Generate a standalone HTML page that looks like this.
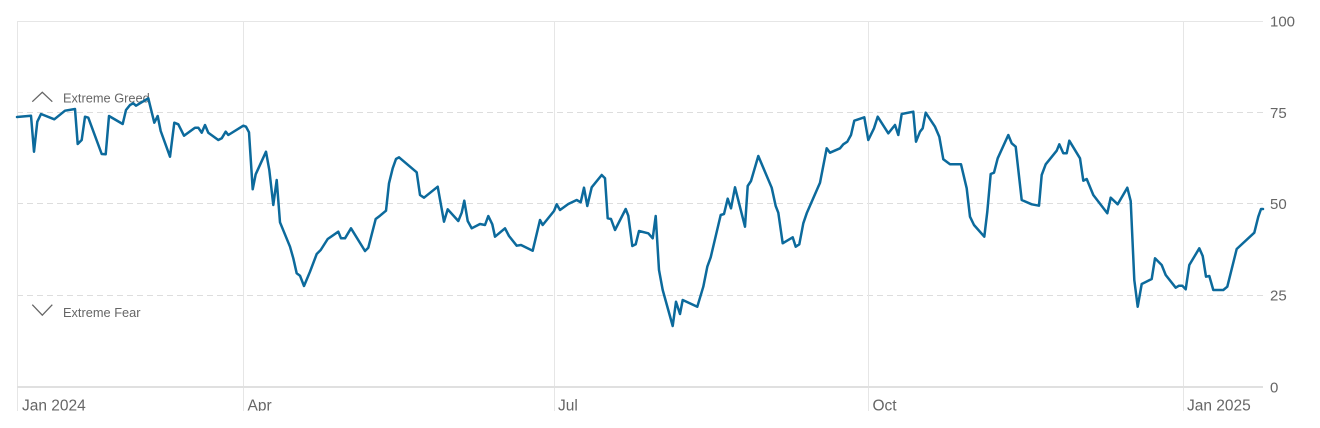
<!DOCTYPE html>
<html>
<head>
<meta charset="utf-8">
<style>
  html, body { margin: 0; padding: 0; background: #ffffff; }
  body { width: 1320px; height: 428px; overflow: hidden; }
  svg { display: block; }
  text { font-family: "Liberation Sans", Arial, sans-serif; fill: #666666; }
</style>
</head>
<body>
<svg width="1320" height="428" viewBox="0 0 1320 428" xmlns="http://www.w3.org/2000/svg">
  <rect x="0" y="0" width="1320" height="428" fill="#ffffff"/>

  <!-- top border gridline -->
  <line x1="17" y1="21.5" x2="1263" y2="21.5" stroke="#e6e6e6" stroke-width="1"/>
  <!-- dashed gridlines -->
  <g stroke="#dddddd" stroke-width="1" stroke-dasharray="6,4">
    <line x1="17" y1="112.5" x2="1263" y2="112.5"/>
    <line x1="17" y1="203.5" x2="1263" y2="203.5"/>
    <line x1="17" y1="295.5" x2="1263" y2="295.5"/>
  </g>
  <!-- vertical gridlines -->
  <g stroke="#e6e6e6" stroke-width="1">
    <line x1="17.5" y1="21" x2="17.5" y2="411"/>
    <line x1="243.5" y1="21" x2="243.5" y2="411"/>
    <line x1="554.5" y1="21" x2="554.5" y2="411"/>
    <line x1="868.5" y1="21" x2="868.5" y2="411"/>
    <line x1="1183.5" y1="21" x2="1183.5" y2="411"/>
  </g>
  <!-- bottom axis -->
  <line x1="17" y1="387" x2="1263" y2="387" stroke="#e0e0e0" stroke-width="2"/>

  <!-- y axis labels -->
  <g font-size="15">
    <text x="1270" y="26.5">100</text>
    <text x="1270" y="118">75</text>
    <text x="1270" y="209">50</text>
    <text x="1270" y="300.5">25</text>
    <text x="1270" y="392.5">0</text>
  </g>

  <!-- x axis labels -->
  <g font-size="15.5">
    <text x="22" y="410.5">Jan 2024</text>
    <text x="247.5" y="410.5">Apr</text>
    <text x="558" y="410.5">Jul</text>
    <text x="872.5" y="410.5">Oct</text>
    <text x="1187" y="410.5">Jan 2025</text>
  </g>

  <!-- legend markers -->
  <polyline points="32.3,101.7 42.3,92.3 52.3,101.7" fill="none" stroke="#666666" stroke-width="1.3"/>
  <text x="63" y="102.5" font-size="12.8">Extreme Greed</text>
  <polyline points="32.3,304.7 42.3,315.2 52.3,304.7" fill="none" stroke="#666666" stroke-width="1.3"/>
  <text x="63" y="317" font-size="12.8">Extreme Fear</text>

  <!-- data line -->
  <polyline fill="none" stroke="#0c6a9c" stroke-width="2.5" stroke-linejoin="round" stroke-linecap="round" points="
17,117 31,115.7 34,151.7 37.3,121.7 41,114 54.3,119.3 65,110.7 75,109 77.7,144 81.7,140 85,116.7 88.3,117.7
101.7,154 105.7,154.3 109,116 122.7,124 126,110 130,105 133.3,103.3 136,105.7 148.3,98.3 154.3,122.7 157.7,116
160.7,131 170,156.7 174.3,122.7 178.3,124.3 184,135.7 195,127.7 198.3,127.7 201.7,132.7 205,125 208.3,132.7
218.3,140 221.7,138.3 225.7,131.7 228.3,135 243.3,125.7 246,126.7 249,132.3 252.7,189.3 255.7,174.3 266,151.7
269.3,170 273.3,205 276.7,180 280,222.3 290,246.7 293.3,258.3 296.7,273.3 300,275.7 304,286 310,271.7 316.7,254
320.7,250 327.7,239 338.3,231.7 341,238.3 345,238.3 351,228.3 365,251 368.3,247.7 375.7,219 380,215.7 386,210.7
389,183.3 392.7,168.3 396,159 399,157.3 416.7,172.3 420,195 424,197.7 437.7,186.7 444,221.7 447.7,209.3
458.3,221 461.7,212.7 464.3,200.7 467.7,221 471.7,228.3 480,224 485,225 488.3,216 492.3,224.3 495,236.7
505,228.3 509,236 516.7,245.7 521,245 532.7,250.7 540,220 542.7,225 554,211 556.7,204.3 560,210 568.3,204
576.7,200 580.7,202.3 584,187.7 587.3,206 591.7,187.3 601.7,175 605,178.3 607.7,218.3 611,219 615,230
625.7,209 628.3,215.7 632.3,246 635.7,244.3 639,231 648.3,233.3 652.7,238.3 655.7,216 659,270 662.7,290
672.7,326 676,301.7 680,314 682.7,300 697.3,306.7 703.3,286.7 707.3,266.7 710.7,257.3 720.7,215 724,214
727.7,198.7 731,208.3 735,187.3 745,226.7 747.7,186 751,181 758.3,156 771.7,187.7 775.7,206 778.3,212.7
782.7,243.3 792.7,237.3 795.7,246.7 799.3,244.3 803.3,223.3 806.7,213.3 820,182.7 826.7,148.3 830,152.7
840,148.3 843.3,144.3 847.3,141.7 851,135 854.3,120.7 864.3,117.3 868.3,140 874,128.3 877.7,116.7 888.3,133.3
895,125 898.3,135 901.7,114 913.3,111.7 916,141.7 920,131.7 922.7,128.3 925.7,112.7 935,126.7 939.3,136.7
943.3,159.3 950,164.3 961,164.3 966.7,188.3 970,216.7 974,225 984.3,236.7 987.3,211.7 990.7,174 994,172.7
997.7,158.3 1008.3,135 1011.7,143.3 1015.7,146.7 1021.7,200 1031.7,204.3 1039,205.7 1041.7,175 1045.7,164.3
1056.7,150.7 1059.3,144.3 1063.3,153.3 1066.7,153.3 1069.3,140.7 1080,158.3 1083.3,180.7 1086.7,179 1093.3,195
1107.3,213.3 1110.7,197.7 1117.7,204.3 1127.3,187.7 1130.7,201 1134.3,280 1137.7,306.7 1141.7,284 1151.7,279
1155,258.3 1161.7,265 1165.7,275 1175.7,287.7 1179,285.7 1182.3,285.7 1185.7,289.3 1189.3,265 1199.3,248.3
1202.7,256 1206,276.7 1209.3,276 1213.3,290 1223.3,290 1227.3,286.7 1236.7,249 1254.3,232.7 1258.3,216.7
1261,209 1263,209"/>

  <!-- bottom clip area -->
  <rect x="0" y="411" width="1320" height="17" fill="#ffffff"/>
</svg>
</body>
</html>
